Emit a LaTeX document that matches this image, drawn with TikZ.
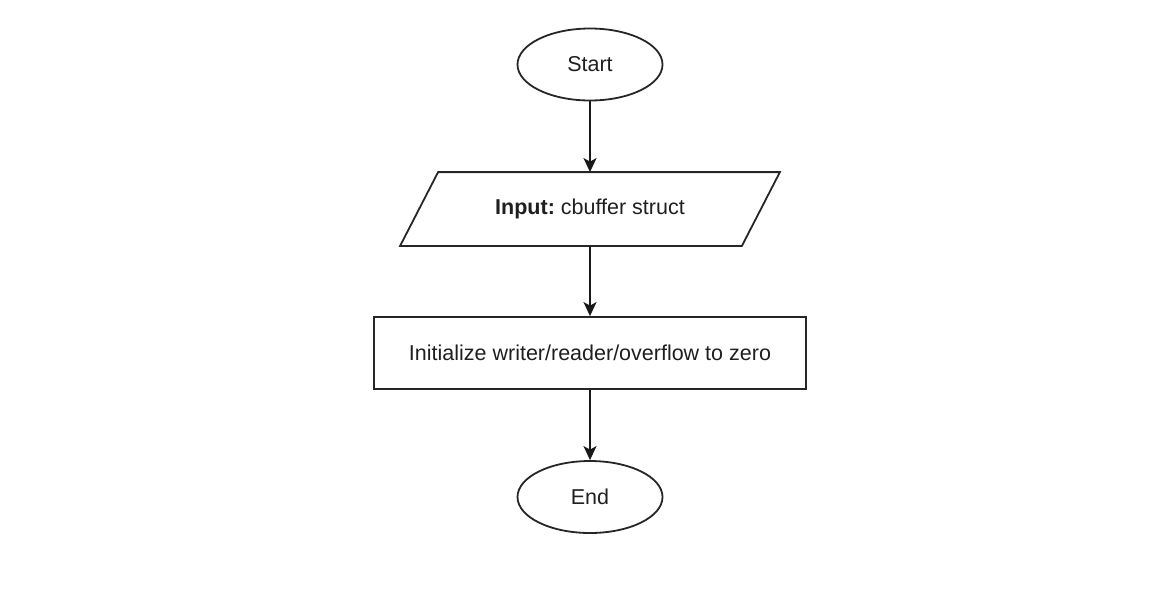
\documentclass[tikz,border=0pt]{standalone}
\usepackage{fontspec}
\setmainfont{Liberation Sans}
\usetikzlibrary{shapes.geometric,arrows.meta}
\begin{document}
\frenchspacing
\begin{tikzpicture}[x=1pt,y=-1pt,
  base/.style={draw=black!85, line width=1.8pt, inner sep=0pt, font=\fontsize{21.5}{25}\selectfont, text=black!88},
  term/.style={base, ellipse, minimum width=145pt, minimum height=72pt},
  io/.style={base, draw=none, rectangle, minimum width=340pt, minimum height=72pt},
  proc/.style={base, rectangle, minimum width=432pt, minimum height=72pt},
  flow/.style={line width=1.8pt, draw=black!90, -{Stealth[length=14pt,width=13pt,inset=3.5pt]}}]
\useasboundingbox (0,0) rectangle (1174,592);
\node[term] (start) at (590,64.5) {Start};
\node[io] (input) at (590,209) {\textbf{Input:} cbuffer struct};
\draw[base] ([xshift=19pt]input.north west) -- ([xshift=19pt]input.north east)
  -- ([xshift=-19pt]input.south east) -- ([xshift=-19pt]input.south west) -- cycle;
\node[proc] (init) at (590,353) {Initialize writer/reader/overflow to zero};
\node[term] (end) at (590,497) {End};
\draw[flow] (start) -- (input);
\draw[flow] (input) -- (init);
\draw[flow] (init) -- (end);
\end{tikzpicture}
\end{document}
